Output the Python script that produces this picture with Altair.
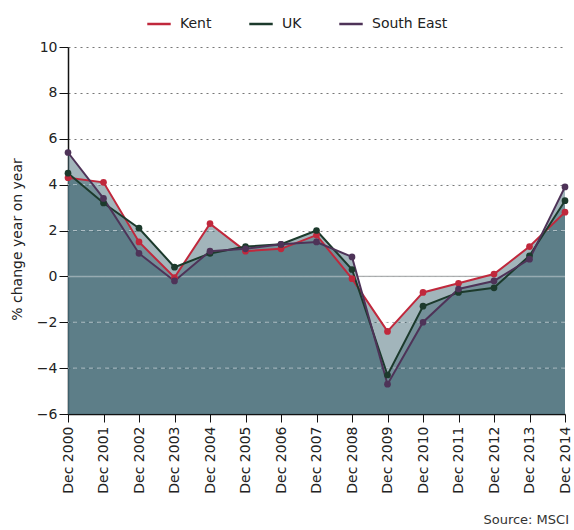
import altair as alt
import pandas as pd

years = ["Dec 2000", "Dec 2001", "Dec 2002", "Dec 2003", "Dec 2004", "Dec 2005",
         "Dec 2006", "Dec 2007", "Dec 2008", "Dec 2009", "Dec 2010", "Dec 2011",
         "Dec 2012", "Dec 2013", "Dec 2014"]
kent = [4.3, 4.1, 1.5, -0.05, 2.3, 1.1, 1.2, 1.8, -0.1, -2.4, -0.7, -0.3, 0.1, 1.3, 2.8]
uk = [4.5, 3.2, 2.1, 0.4, 1.0, 1.3, 1.4, 2.0, 0.3, -4.3, -1.3, -0.7, -0.5, 0.9, 3.3]
south_east = [5.4, 3.4, 1.0, -0.2, 1.1, 1.2, 1.4, 1.5, 0.85, -4.7, -2.0, -0.55, -0.2, 0.75, 3.9]

series_names = ["Kent", "UK", "South East"]
series_colors = ["#c0283c", "#1c3a2c", "#4e3358"]
y_ticks = [-6, -4, -2, 0, 2, 4, 6, 8, 10]
light_lines = [-4, -2, 2, 4]

rows = []
for name, vals in zip(series_names, [kent, uk, south_east]):
    for i, (yr, v) in enumerate(zip(years, vals)):
        rows.append({"year": yr, "series": name, "value": v, "base": -6, "order": i})
df = pd.DataFrame(rows)

FONT = "DejaVu Sans"
W, H = 497, 367

x_axis = alt.Axis(title=None, labelAngle=-90, labelFontSize=14, labelFont=FONT,
                  labelColor="#222", tickSize=8, tickColor="#111",
                  domainColor="#111", domainWidth=1.5, labelPadding=4, grid=False)
x_scale = alt.Scale(type="point", padding=0)
y_scale = alt.Scale(domain=[-6, 10], nice=False)
y_axis = alt.Axis(title="% change year on year", titleFontSize=14, titleFont=FONT,
                  titleFontWeight="normal", titleColor="#222", titlePadding=12,
                  titleY=192,
                  values=y_ticks, labelFontSize=14, labelFont=FONT, labelColor="#222",
                  tickSize=9, tickColor="#111", domainColor="#111", domainWidth=1.5,
                  grid=True, gridColor="#777", gridDash=[2, 4], gridWidth=1)


def X():
    return alt.X("year:O", sort=years, scale=x_scale, axis=x_axis)


def Y(field="value:Q"):
    return alt.Y(field, scale=y_scale, axis=y_axis)


base = alt.Chart(df)

zero_df = pd.DataFrame({"v": [0]})
zero_rule = alt.Chart(zero_df).mark_rule(color="#666", strokeWidth=1).encode(y=Y("v:Q"))
zero_light = alt.Chart(zero_df).mark_rule(color="#e4eaec", strokeWidth=1.5,
                                          opacity=0.5).encode(y=Y("v:Q"))

areas = base.mark_area(color="#466c77", opacity=0.5, interpolate="linear").encode(
    x=X(), y=Y(), y2="base:Q", detail="series:N")

light_df = pd.DataFrame({"v": light_lines})
light_rules = alt.Chart(light_df).mark_rule(color="#e4eaec", strokeDash=[4, 4],
                                            strokeWidth=1, opacity=0.6).encode(y=Y("v:Q"))

color_scale = alt.Scale(domain=series_names, range=series_colors)

lines = base.mark_line(strokeWidth=2).encode(
    x=X(), y=Y(),
    color=alt.Color("series:N", scale=color_scale,
                    legend=alt.Legend(title=None, orient="none", legendX=78, legendY=-36,
                                      direction="horizontal", symbolType="stroke",
                                      symbolStrokeWidth=2.5, symbolSize=550,
                                      labelFontSize=14, labelFont=FONT, labelColor="#222",
                                      columnPadding=32, labelOffset=8)))

points = base.mark_point(filled=True, size=45, opacity=1).encode(
    x=X(), y=Y(),
    color=alt.Color("series:N", scale=color_scale, legend=None))

src_df = pd.DataFrame({"t": ["Source: MSCI"]})
source = alt.Chart(src_df).mark_text(align="right", baseline="middle", fontSize=13,
                                     font=FONT, color="#333").encode(
    x=alt.value(W + 4), y=alt.value(473), text="t:N")

chart = alt.layer(zero_rule, areas, zero_light, light_rules, lines, points, source).properties(
    width=W, height=H,
    autosize=alt.AutoSizeParams(type="none"),
    padding={"left": 68, "top": 47, "right": 574 - 68 - W, "bottom": 116},
).configure(background="white").configure_view(stroke=None)

chart.save("out.html", embed_options={"renderer": "svg", "actions": False})
